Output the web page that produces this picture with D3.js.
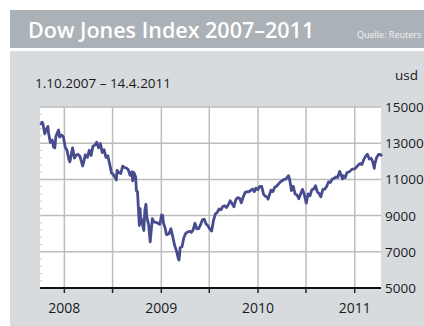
<!DOCTYPE html>
<html>
<head>
<meta charset="utf-8">
<script src="https://cdn.jsdelivr.net/npm/d3@7"></script>
<style>
  body { margin: 0; background: #fff; }
  svg { display: block; font-family: "Open Sans", sans-serif; }
</style>
</head>
<body>
<div id="chart"></div>
<script>
// weekly closes (date, index points)
const dates = [
  "2007-10-01","2007-10-05","2007-10-09","2007-10-12","2007-10-19","2007-10-26","2007-10-31","2007-11-02","2007-11-09","2007-11-16","2007-11-21","2007-11-26","2007-11-30","2007-12-07","2007-12-10","2007-12-14","2007-12-21","2007-12-28",
  "2008-01-04","2008-01-11","2008-01-18","2008-01-22","2008-01-25","2008-02-01","2008-02-08","2008-02-15","2008-02-22","2008-02-29","2008-03-07","2008-03-10","2008-03-14","2008-03-20","2008-03-28","2008-04-04","2008-04-11","2008-04-18","2008-04-25","2008-05-02","2008-05-09","2008-05-16","2008-05-23","2008-05-30","2008-06-06","2008-06-13","2008-06-20","2008-06-27","2008-07-03","2008-07-11","2008-07-15","2008-07-18","2008-07-25","2008-08-01","2008-08-08","2008-08-15","2008-08-22","2008-08-29","2008-09-05","2008-09-12","2008-09-15","2008-09-19","2008-09-26","2008-09-29","2008-10-03","2008-10-10","2008-10-13","2008-10-15","2008-10-17","2008-10-24","2008-10-27","2008-10-31","2008-11-04","2008-11-07","2008-11-14","2008-11-20","2008-11-28","2008-12-05","2008-12-12","2008-12-19","2008-12-26",
  "2009-01-02","2009-01-06","2009-01-09","2009-01-16","2009-01-20","2009-01-23","2009-01-30","2009-02-06","2009-02-13","2009-02-20","2009-02-27","2009-03-06","2009-03-09","2009-03-13","2009-03-20","2009-03-27","2009-04-03","2009-04-09","2009-04-17","2009-04-24","2009-05-01","2009-05-08","2009-05-15","2009-05-22","2009-05-29","2009-06-05","2009-06-12","2009-06-19","2009-06-26","2009-07-02","2009-07-10","2009-07-17","2009-07-24","2009-07-31","2009-08-07","2009-08-14","2009-08-21","2009-08-28","2009-09-04","2009-09-11","2009-09-18","2009-09-25","2009-10-02","2009-10-09","2009-10-16","2009-10-23","2009-10-30","2009-11-06","2009-11-13","2009-11-20","2009-11-27","2009-12-04","2009-12-11","2009-12-18","2009-12-24","2009-12-31",
  "2010-01-08","2010-01-15","2010-01-22","2010-01-29","2010-02-05","2010-02-08","2010-02-12","2010-02-19","2010-02-26","2010-03-05","2010-03-12","2010-03-19","2010-03-26","2010-04-02","2010-04-09","2010-04-16","2010-04-26","2010-04-30","2010-05-06","2010-05-07","2010-05-14","2010-05-21","2010-05-28","2010-06-04","2010-06-11","2010-06-18","2010-06-25","2010-07-02","2010-07-09","2010-07-16","2010-07-23","2010-07-30","2010-08-06","2010-08-13","2010-08-20","2010-08-26","2010-09-03","2010-09-10","2010-09-17","2010-09-24","2010-10-01","2010-10-08","2010-10-15","2010-10-22","2010-10-29","2010-11-05","2010-11-12","2010-11-16","2010-11-19","2010-11-26","2010-12-03","2010-12-10","2010-12-17","2010-12-23","2010-12-31",
  "2011-01-07","2011-01-14","2011-01-21","2011-01-28","2011-02-04","2011-02-11","2011-02-18","2011-02-25","2011-03-04","2011-03-10","2011-03-16","2011-03-18","2011-03-25","2011-04-01","2011-04-08","2011-04-14"
];
const values = [
  14087,14066,14165,14093,13522,13807,13930,13595,13043,13177,12800,12743,13372,13625,13727,13339,13450,13366,
  12800,12606,12099,11971,12207,12743,12182,12348,12381,12266,11894,11740,11951,12361,12216,12609,12325,12849,12891,13058,12745,12986,12480,12638,12210,12307,11843,11346,11288,11100,10963,11496,11370,11326,11734,11659,11628,11544,11220,11421,10917,11388,11143,10365,10325,8451,9387,8578,8852,8378,8175,9325,9625,8943,8497,7552,8829,8635,8629,8579,8515,
  9034,9015,8599,8281,7949,7949,8001,8280,7850,7366,7062,6627,6547,7224,7278,7776,8017,8083,8131,8076,8212,8575,8268,8277,8500,8763,8799,8539,8438,8280,8146,8743,9093,9171,9370,9321,9505,9544,9441,9605,9820,9665,9487,9864,9995,9972,9712,10023,10270,10318,10309,10388,10471,10328,10520,10428,
  10618,10609,10172,10067,10012,9908,10099,10402,10325,10566,10625,10742,10850,10927,10997,11019,11205,11009,10520,10380,10620,10193,10137,9931,10211,10450,10144,9686,10198,10098,10425,10466,10653,10303,10214,10040,10448,10462,10607,10860,10830,11006,11062,11133,11118,11444,11192,11023,11204,11092,11382,11410,11491,11573,11578,
  11674,11787,11871,11823,12092,12273,12391,12130,12169,11984,11613,11858,12220,12376,12380,12285
];
const yTicks = [5000, 7000, 9000, 11000, 13000, 15000];
const yearTicks = ["2008-01-01", "2009-01-01", "2010-01-01", "2011-01-01"];
const halfYearTicks = ["2008-07-01", "2009-07-01", "2010-07-01"];

const width = 424, height = 326;
const parse = d3.timeParse("%Y-%m-%d");
const data = dates.map((d, i) => ({date: parse(d), value: values[i]}));

const svg = d3.select("#chart")
  .append("svg")
  .attr("width", width)
  .attr("height", height);

// panel backgrounds
svg.append("rect").attr("x", 10).attr("y", 10).attr("width", 414).attr("height", 38).attr("fill", "#aab1b7");
svg.append("rect").attr("x", 10).attr("y", 51).attr("width", 414).attr("height", 275).attr("fill", "#d8dbde");

svg.append("text")
  .attr("x", 28).attr("y", 38)
  .attr("fill", "#fff")
  .attr("font-size", 21.5)
  .attr("font-weight", 600)
  .text("Dow Jones Index 2007\u20132011");

svg.append("text")
  .attr("x", 357).attr("y", 38)
  .attr("fill", "#f2f3f4")
  .attr("font-size", 9)
  .text("Quelle: Reuters");

svg.append("text")
  .attr("x", 35).attr("y", 88)
  .attr("fill", "#1a1a1a")
  .attr("font-size", 13.5)
  .text("1.10.2007 \u2013 14.4.2011");

svg.append("text")
  .attr("x", 395).attr("y", 80)
  .attr("fill", "#1a1a1a")
  .attr("font-size", 13.5)
  .text("usd");

// scales
const x = d3.scaleTime()
  .domain([parse("2007-10-01"), parse("2011-04-14")])
  .range([40, 382]);

const y = d3.scaleLinear()
  .domain([5000, 15000])
  .range([288, 107]);

// plot area
svg.append("rect")
  .attr("x", 40).attr("y", y(15000))
  .attr("width", 341).attr("height", y(5000) - y(15000))
  .attr("fill", "#fff");

const gridX = yearTicks.concat(halfYearTicks).map(parse);

svg.append("g").selectAll("line")
  .data(yTicks.slice(1))
  .enter().append("line")
  .attr("x1", 40).attr("x2", 381)
  .attr("y1", d => y(d)).attr("y2", d => y(d))
  .attr("stroke", "#bcbcbc").attr("stroke-width", 1.5);

svg.append("g").selectAll("line")
  .data(gridX)
  .enter().append("line")
  .attr("x1", d => x(d)).attr("x2", d => x(d))
  .attr("y1", y(15000)).attr("y2", y(5000))
  .attr("stroke", "#bcbcbc").attr("stroke-width", 1.5);

// tiny minor ticks on the left edge
svg.append("g").selectAll("line")
  .data(d3.range(5400, 15000, 400))
  .enter().append("line")
  .attr("x1", 40).attr("x2", 42)
  .attr("y1", d => y(d)).attr("y2", d => y(d))
  .attr("stroke", "#c8c8c8").attr("stroke-width", 1);

// line
svg.append("path")
  .datum(data)
  .attr("fill", "none")
  .attr("stroke", "#474c8f")
  .attr("stroke-width", 2.8)
  .attr("stroke-linejoin", "round")
  .attr("d", d3.line().x(d => x(d.date)).y(d => y(d.value)));

// bottom axis
svg.append("line")
  .attr("x1", 40).attr("x2", 381)
  .attr("y1", 288).attr("y2", 288)
  .attr("stroke", "#111").attr("stroke-width", 1.8);

svg.append("g").selectAll("line")
  .data(gridX)
  .enter().append("line")
  .attr("x1", d => x(d)).attr("x2", d => x(d))
  .attr("y1", 288).attr("y2", 293)
  .attr("stroke", "#222").attr("stroke-width", 1.5);

svg.append("g").selectAll("text")
  .data(yearTicks.map(parse))
  .enter().append("text")
  .attr("x", d => x(d)).attr("y", 313)
  .attr("text-anchor", "middle")
  .attr("fill", "#1a1a1a")
  .attr("font-size", 14)
  .text(d3.timeFormat("%Y"));

// value labels on the right
svg.append("g").selectAll("text")
  .data(yTicks)
  .enter().append("text")
  .attr("x", 385).attr("y", d => y(d) + 5)
  .attr("fill", "#1a1a1a")
  .attr("font-size", 13.5)
  .text(d => d);
</script>
</body>
</html>
